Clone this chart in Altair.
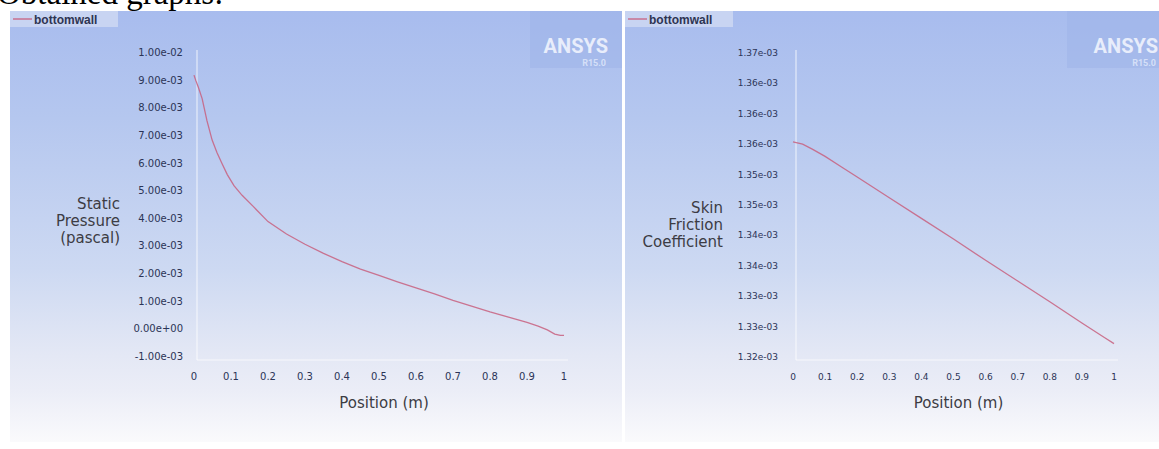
import altair as alt
import pandas as pd

W, H = 1159, 449

# ---- static pressure along the bottom wall ----
position_p = [0, 0.005, 0.012, 0.022, 0.035, 0.049, 0.062, 0.075, 0.09, 0.108,
              0.13, 0.16, 0.2, 0.25, 0.3, 0.35, 0.4, 0.45, 0.5, 0.55, 0.6, 0.65,
              0.7, 0.75, 0.8, 0.85, 0.9, 0.93, 0.955, 0.975, 0.99, 1.0]
static_pressure = [9.20e-3, 9.00e-3, 8.75e-3, 8.35e-3, 7.55e-3, 6.85e-3, 6.40e-3,
                   6.02e-3, 5.60e-3, 5.20e-3, 4.85e-3, 4.45e-3, 3.90e-3, 3.45e-3,
                   3.08e-3, 2.75e-3, 2.45e-3, 2.18e-3, 1.95e-3, 1.72e-3, 1.50e-3,
                   1.28e-3, 1.05e-3, 0.84e-3, 0.63e-3, 0.44e-3, 0.25e-3, 0.12e-3,
                   -0.02e-3, -0.17e-3, -0.22e-3, -0.22e-3]

# ---- skin friction coefficient along the bottom wall ----
position_cf = [0, 0.03, 0.06, 0.1, 0.15, 0.2, 0.3, 0.4, 0.5, 0.6, 0.7, 0.8, 0.9,
               0.97, 1.0]
skin_friction = [1.3554e-3, 1.3550e-3, 1.3542e-3, 1.3530e-3, 1.3513e-3, 1.3496e-3,
                 1.3462e-3, 1.3428e-3, 1.3394e-3, 1.3359e-3, 1.3325e-3, 1.3291e-3,
                 1.3256e-3, 1.3232e-3, 1.3222e-3]

# ---- tick values and labels ----
x_ticks = [0, 0.1, 0.2, 0.3, 0.4, 0.5, 0.6, 0.7, 0.8, 0.9, 1.0]
x_tick_labels = ["0", "0.1", "0.2", "0.3", "0.4", "0.5", "0.6", "0.7", "0.8", "0.9", "1"]
p_ticks = [-1e-3, 0, 1e-3, 2e-3, 3e-3, 4e-3, 5e-3, 6e-3, 7e-3, 8e-3, 9e-3, 1e-2]
p_tick_labels = ["-1.00e-03", "0.00e+00", "1.00e-03", "2.00e-03", "3.00e-03",
                 "4.00e-03", "5.00e-03", "6.00e-03", "7.00e-03", "8.00e-03",
                 "9.00e-03", "1.00e-02"]
cf_ticks = [1.320e-3, 1.325e-3, 1.330e-3, 1.335e-3, 1.340e-3, 1.345e-3, 1.350e-3,
            1.355e-3, 1.360e-3, 1.365e-3, 1.370e-3]
cf_tick_labels = ["1.32e-03", "1.33e-03", "1.33e-03", "1.34e-03", "1.34e-03",
                  "1.35e-03", "1.35e-03", "1.36e-03", "1.36e-03", "1.36e-03",
                  "1.37e-03"]

series_name = "bottomwall"

LINE_COLOR = "#c8607f"
TICK_COLOR = "#2b3456"
TITLE_COLOR = "#3c3c44"
TICK_FONT = "DejaVu Sans"

one = pd.DataFrame({"a": [0]})

# pixel placement of each panel's plot area
xs_left = alt.Scale(domain=[0, 1], range=[194, 564], nice=False, zero=False)
ys_left = alt.Scale(domain=[-1e-3, 1e-2], range=[357, 53], nice=False, zero=False)
xs_right = alt.Scale(domain=[0, 1], range=[793, 1114], nice=False, zero=False)
ys_right = alt.Scale(domain=[1.32e-3, 1.37e-3], range=[357, 53], nice=False, zero=False)

grad = alt.Gradient(
    gradient="linear",
    stops=[
        alt.GradientStop(color="#a8bcee", offset=0),
        alt.GradientStop(color="#b5c7ef", offset=0.25),
        alt.GradientStop(color="#cdd9f2", offset=0.6),
        alt.GradientStop(color="#e4e8f5", offset=0.8),
        alt.GradientStop(color="#ebedf7", offset=0.88),
        alt.GradientStop(color="#fafafc", offset=1),
    ],
    x1=0, x2=0, y1=0, y2=1,
)


def box(x0, x1, y0, y1, **kw):
    return alt.Chart(one).mark_rect(**kw).encode(
        x=alt.value(x0), x2=alt.value(x1), y=alt.value(y0), y2=alt.value(y1))


def label(txt, x, y, **kw):
    return alt.Chart(one).mark_text(text=txt, **kw).encode(
        x=alt.value(x), y=alt.value(y))


def rule(x0, x1, y0, y1, **kw):
    return alt.Chart(one).mark_rule(**kw).encode(
        x=alt.value(x0), x2=alt.value(x1), y=alt.value(y0), y2=alt.value(y1))


def panel(left, right, xs, ys, xv, yv, yticks, ylabels, ylab_right, tick_size,
          title_lines, title_x, title_y, title_size, title_lh):
    layers = []
    # gradient background
    layers.append(box(left, right, 11, 442, fill=grad))
    # logo backdrop and logo
    logo_right = right - 14 if right < W else W - 1
    layers.append(box(right - 92, right, 11, 68, fill="#9cb1e6", opacity=0.45))
    layers.append(label("ANSYS", logo_right, 47, align="right",
                        font="Roboto", fontWeight="bold", fontSize=20,
                        color="#eef2fd", opacity=0.92))
    layers.append(label("R15.0", logo_right - 2, 63, align="right",
                        font="Roboto", fontWeight="bold", fontSize=9,
                        color="#dbe4fa", opacity=0.9))
    # legend
    layers.append(box(left, left + 108, 11, 27, fill="#cbd6f2", opacity=0.9))
    layers.append(rule(left + 3, left + 22, 19, 19, color=LINE_COLOR, strokeWidth=1.3))
    layers.append(label(series_name, left + 24, 19.5, align="left", baseline="middle",
                        font="Liberation Sans", fontWeight="bold", fontSize=12,
                        color="#2e3552"))
    # faint axis lines
    x0 = xs.range[0] + 3
    layers.append(rule(x0, x0, 50, 360, color="white", opacity=0.4, strokeWidth=2))
    layers.append(rule(x0, xs.range[1] + 4, 360, 360, color="white", opacity=0.35,
                       strokeWidth=2))
    # the curve
    curve = pd.DataFrame({"position": xv, "value": yv})
    layers.append(alt.Chart(curve).mark_line(color=LINE_COLOR, strokeWidth=1.3,
                                             opacity=0.85).encode(
        x=alt.X("position:Q", scale=xs, axis=None),
        y=alt.Y("value:Q", scale=ys, axis=None),
    ))
    # y tick labels
    yt = pd.DataFrame({"v": yticks, "lab": ylabels})
    layers.append(alt.Chart(yt).mark_text(align="right", baseline="middle",
                                          font=TICK_FONT, fontSize=tick_size,
                                          color=TICK_COLOR).encode(
        x=alt.value(ylab_right),
        y=alt.Y("v:Q", scale=ys, axis=None),
        text="lab:N",
    ))
    # x tick labels
    xt = pd.DataFrame({"v": x_ticks, "lab": x_tick_labels})
    layers.append(alt.Chart(xt).mark_text(align="center", baseline="middle",
                                          font=TICK_FONT, fontSize=tick_size,
                                          color=TICK_COLOR).encode(
        x=alt.X("v:Q", scale=xs, axis=None),
        y=alt.value(377),
        text="lab:N",
    ))
    # axis titles
    layers.append(label(title_lines, title_x, title_y, align="right",
                        baseline="alphabetic", font=TICK_FONT, fontSize=title_size,
                        lineHeight=title_lh, color=TITLE_COLOR))
    layers.append(label("Position (m)", (xs.range[0] + xs.range[1]) / 2 + 5, 403,
                        align="center", baseline="middle", font=TICK_FONT,
                        fontSize=15, color=TITLE_COLOR))
    return layers


left_layers = panel(10, 622, xs_left, ys_left, position_p, static_pressure,
                    p_ticks, p_tick_labels, 183, 10,
                    ["Static", "Pressure", "(pascal)"], 120, 209, 15, 17)
right_layers = panel(625, W, xs_right, ys_right, position_cf, skin_friction,
                     cf_ticks, cf_tick_labels, 778, 9,
                     ["Skin", "Friction", "Coefficient"], 723, 213, 15, 17)

heading = label("Obtained graphs:", -3, 4, align="left", baseline="alphabetic",
                font="Liberation Serif", fontSize=33, color="black")

chart = alt.layer(*left_layers, *right_layers, heading).resolve_scale(
    x="independent", y="independent"
).properties(
    width=W, height=H, padding=0, background="white",
    autosize=alt.AutoSizeParams(type="none"),
).configure_view(stroke=None)

chart.save("out.html", embed_options={"renderer": "svg", "actions": False})
